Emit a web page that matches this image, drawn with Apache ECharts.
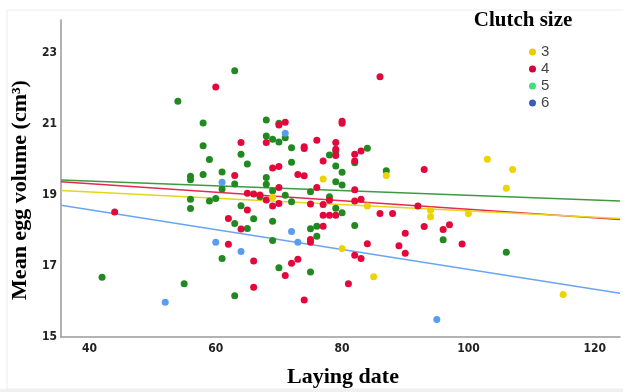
<!DOCTYPE html>
<html><head><meta charset="utf-8">
<script src="https://cdn.jsdelivr.net/npm/echarts@6/dist/echarts.min.js"></script>
<style>html,body{margin:0;padding:0;background:#fff}#c{width:623px;height:392px}</style>
</head><body><div id="c"></div>
<script>
// Data: [laying date, mean egg volume]
const clutchNames = ['3', '4', '5', '6'];
const clutch3 = [[69,18.94],[77,19.45],[84,18.69],[87,19.55],[103,20.01],[107,19.72],[106,19.19],[94,18.57],[94,18.39],[100,18.48],[80,17.49],[85,16.70],[115,16.20]];
const clutch4 = [[60,22.04],[86,22.33],[63,19.55],[64,20.48],[65,19.05],[66,19.03],[67,19.00],[68,20.48],[70,20.97],[71,21.05],[69,19.76],[70,19.80],[70,19.21],[68,18.86],[69,18.69],[70,18.76],[73,19.58],[74,19.54],[74,20.36],[74,20.31],[76,20.54],[76,19.21],[75,18.75],[77,19.96],[77,18.73],[78,18.85],[79,20.48],[79,20.29],[79,20.11],[80,21.08],[80,21.02],[82,20.15],[82,19.96],[83,20.24],[82,19.15],[82,18.83],[83,18.88],[93,19.72],[92,18.69],[86,18.48],[88,18.48],[93,18.11],[97,18.16],[96,18.03],[90,17.92],[84,17.63],[89,17.57],[90,17.36],[99,17.62],[83,17.21],[44,18.52],[62,18.34],[64,18.04],[62,17.61],[65,18.58],[77,18.43],[78,18.43],[79,18.43],[77,18.12],[75,17.75],[75,17.67],[82,17.30],[66,17.14],[72,17.08],[73,17.19],[71,16.73],[66,16.40],[74,16.04],[81,16.50]];
const clutch5 = [[63,22.50],[54,21.64],[58,21.03],[58,20.39],[59,20.00],[56,19.53],[56,19.43],[58,19.58],[61,19.65],[61,19.17],[63,19.31],[64,20.15],[65,19.87],[56,18.88],[59,18.83],[60,18.90],[56,18.62],[64,18.70],[67,18.95],[68,21.11],[68,20.66],[69,20.57],[70,21.02],[71,20.61],[70,20.49],[72,20.33],[72,19.92],[68,19.49],[68,19.30],[69,19.12],[71,18.99],[72,18.81],[75,19.09],[78,18.95],[78,20.13],[79,20.22],[79,19.82],[79,19.37],[80,19.64],[80,19.28],[82,19.91],[84,20.32],[79,18.63],[87,19.68],[96,17.74],[106,17.39],[63,18.20],[61,17.21],[42,16.68],[55,16.50],[63,16.16],[65,18.06],[66,18.33],[69,18.26],[80,18.50],[75,18.05],[76,18.12],[76,17.84],[82,18.14],[69,17.72],[70,16.95],[75,16.83]];
const clutch6 = [[61,19.36],[71,20.74],[60,17.67],[64,17.41],[52,15.98],[72,17.97],[73,17.67],[95,15.49]];
// Fit lines (values at x-axis ends)
const fit3 = [[35.5,19.13],[124,18.34]];
const fit4 = [[35.5,19.37],[124,18.31]];
const fit5 = [[35.5,19.42],[124,18.83]];
const fit6 = [[35.5,18.71],[124,16.23]];
const xTicks = [40, 60, 80, 100, 120];
const yTicks = [15, 17, 19, 21, 23];

const pointColors = {'3':'#ecd400','4':'#e2083c','5':'#208a20','6':'#5a9cef'};
const legendColors = {'3':'#e8cc00','4':'#d8003a','5':'#3ee07c','6':'#3c5fb5'};
const lineColors = {'3':'#e8d41a','4':'#e42a52','5':'#3f9a3f','6':'#6aa6f0'};

const serif = '"Liberation Serif", "Times New Roman", serif';
const narrow = '"Liberation Sans Narrow", "DejaVu Sans Condensed", "Liberation Sans", Arial, sans-serif';
const sans = '"Liberation Sans", Arial, sans-serif';

function scatter(name, data, z) {
  return { name: name, type: 'scatter', data: data, symbolSize: 7, z: z,
    itemStyle: { color: pointColors[name], opacity: 1 }, emphasis: { disabled: true } };
}
function fitLine(name, data) {
  return { name: 'fit' + name, type: 'line', data: data, showSymbol: false, symbol: 'none', z: 1,
    lineStyle: { color: lineColors[name], width: 1.5 }, silent: true, emphasis: { disabled: true } };
}

const chart = echarts.init(document.getElementById('c'), null, { renderer: 'canvas' });
chart.setOption({
  animation: false,
  backgroundColor: '#fff',
  grid: { left: 61, right: 0, top: 20, bottom: 55, containLabel: false },
  xAxis: {
    type: 'value', min: 35.5, max: 124, splitNumber: 5,
    axisLine: { show: true, lineStyle: { color: '#9a9a9a', width: 1.5 } },
    axisTick: { show: false }, splitLine: { show: false },
    axisLabel: { margin: 6, color: '#222', fontSize: 12, fontWeight: 'bold', fontFamily: narrow,
      formatter: v => xTicks.indexOf(Math.round(v * 1000) / 1000) >= 0 ? String(v) : '' }
  },
  yAxis: {
    type: 'value', min: 15, max: 23.93, interval: 2,
    axisLine: { show: true, lineStyle: { color: '#9a9a9a', width: 1.5 } },
    axisTick: { show: false }, splitLine: { show: false },
    axisLabel: { margin: 4, color: '#222', fontSize: 12, fontWeight: 'bold', fontFamily: narrow,
      formatter: v => yTicks.indexOf(Math.round(v * 1000) / 1000) >= 0 ? String(v) : '' }
  },
  legend: {
    orient: 'vertical', left: 524, top: 39, icon: 'circle',
    itemWidth: 7, itemHeight: 7, itemGap: 1, itemTextGap: 10,
    textStyle: { color: '#444', fontSize: 15, fontFamily: sans, lineHeight: 16 },
    data: clutchNames.map(n => ({ name: n, itemStyle: { color: legendColors[n] } })),
    selectedMode: false
  },
  graphic: [
    { type: 'rect', shape: { x: 7, y: 10, width: 700, height: 379 }, silent: true, z: -10,
      style: { fill: 'none', stroke: '#ededed', lineWidth: 1 } },
    { type: 'rect', shape: { x: 0, y: 389, width: 623, height: 3 }, silent: true, z: -10,
      style: { fill: '#f0f0f0' } },
    { type: 'text', x: 523, y: 21, silent: true,
      style: { text: 'Clutch size', font: 'bold 21px ' + serif, fill: '#000', textAlign: 'center', textVerticalAlign: 'middle' } },
    { type: 'text', x: 343, y: 377, silent: true,
      style: { text: 'Laying date', font: 'bold 22px ' + serif, fill: '#000', textAlign: 'center', textVerticalAlign: 'middle' } },
    { type: 'text', x: 20, y: 190, rotation: Math.PI / 2, silent: true,
      style: { text: 'Mean egg volume (cm³)', font: 'bold 22px ' + serif, fill: '#000', textAlign: 'center', textVerticalAlign: 'middle' } }
  ],
  series: [
    fitLine('5', fit5), fitLine('4', fit4), fitLine('3', fit3), fitLine('6', fit6),
    scatter('5', clutch5, 3), scatter('4', clutch4, 4), scatter('3', clutch3, 5), scatter('6', clutch6, 6)
  ]
});
</script>
</body></html>
